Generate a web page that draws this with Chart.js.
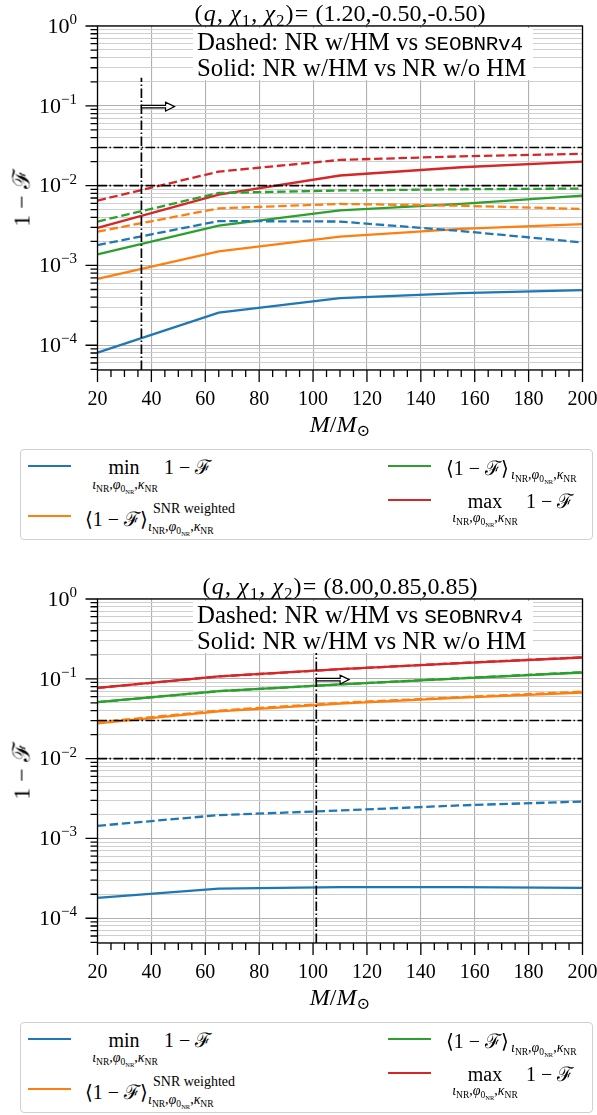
<!DOCTYPE html>
<html>
<head>
<meta charset="utf-8">
<script src="https://cdn.jsdelivr.net/npm/chart.js@4.4.0/dist/chart.umd.min.js"></script>
<style>
  body { margin: 0; width: 597px; height: 1115px; background: #fff; position: relative; overflow: hidden;
         font-family: "Liberation Serif", "DejaVu Serif", serif; color: #000; }
  .panel { position: absolute; left: 0; width: 597px; height: 545px; }
  .panel canvas { position: absolute; left: 0; top: 0; }
  .title { position: absolute; left: 97px; width: 486px; top: 0; text-align: center; font-size: 24px; line-height: 26px; white-space: nowrap; }
  .title .m { letter-spacing: 1.2px; }
  .note { position: absolute; left: 193px; top: 28px; width: 340px; height: 52px; background: #fff;
          font-size: 24.8px; line-height: 23px; padding: 2px 0 0 4px; box-sizing: border-box; white-space: nowrap; }
  .tt { font-family: "Liberation Mono", monospace; font-size: 21px; letter-spacing: -0.3px; }
  .ylab { position: absolute; left: 20px; top: 198px; transform: translate(-50%, -50%) rotate(-90deg); font-size: 24px; white-space: nowrap; }
  .xlab { position: absolute; left: 340px; top: 424px; transform: translate(-50%, -50%); font-size: 24px; white-space: nowrap; }
  sub { font-size: 0.68em; vertical-align: -0.28em; line-height: 0; }
  .legend { position: absolute; left: 20px; top: 449px; width: 573px; height: 91px; box-sizing: border-box;
            border: 1px solid #d0d0d0; border-radius: 4px; background: #fff; }
  .legend .ln { position: absolute; width: 43px; height: 2.4px; }
  .legend .t { position: absolute; white-space: nowrap; line-height: 1; transform: translateY(-50%); font-size: 20px; }
  .legend .c { transform: translate(-50%, -50%); }
  .legend .s { font-size: 14px; }
</style>
</head>
<body>
<script>
const masses = [20, 65, 110, 155, 200];

// (q, chi1, chi2) = (1.20, -0.50, -0.50)
const lowMinHM   = [8.1e-5, 2.57e-4, 3.9e-4, 4.5e-4, 4.9e-4];
const lowSnrHM   = [6.8e-4, 1.5e-3, 2.3e-3, 2.87e-3, 3.3e-3];
const lowMeanHM  = [1.38e-3, 3.15e-3, 4.9e-3, 5.9e-3, 7.5e-3];
const lowMaxHM   = [2.95e-3, 7.7e-3, 1.34e-2, 1.7e-2, 2.0e-2];
const lowMinEOB  = [1.8e-3, 3.6e-3, 3.55e-3, 2.7e-3, 1.94e-3];
const lowSnrEOB  = [2.65e-3, 5.2e-3, 5.9e-3, 5.6e-3, 5.1e-3];
const lowMeanEOB = [3.55e-3, 8.1e-3, 8.7e-3, 9.0e-3, 9.2e-3];
const lowMaxEOB  = [6.5e-3, 1.5e-2, 2.1e-2, 2.33e-2, 2.5e-2];

// (q, chi1, chi2) = (8.00, 0.85, 0.85)
const highMinHM   = [1.8e-4, 2.35e-4, 2.45e-4, 2.45e-4, 2.4e-4];
const highSnrHM   = [2.76e-2, 3.9e-2, 4.9e-2, 5.8e-2, 6.7e-2];
const highMeanHM  = [5.1e-2, 7.0e-2, 8.5e-2, 1.01e-1, 1.2e-1];
const highMaxHM   = [7.7e-2, 1.07e-1, 1.32e-1, 1.57e-1, 1.85e-1];
const highMinEOB  = [1.44e-3, 1.96e-3, 2.24e-3, 2.6e-3, 2.9e-3];
const highSnrEOB  = [2.85e-2, 4.0e-2, 5.0e-2, 5.9e-2, 6.9e-2];
const highMeanEOB = [5.1e-2, 7.0e-2, 8.5e-2, 1.02e-1, 1.21e-1];
const highMaxEOB  = [7.7e-2, 1.07e-1, 1.32e-1, 1.58e-1, 1.86e-1];

const paramLabels = ['(1.20,-0.50,-0.50)', '(8.00,0.85,0.85)'];
const thresholds = [0.03, 0.01];
const cutoffMass = [36.3, 101.2];
const arrowEnd = [48.6, 113.4];
const arrowLevel = 0.1;
const cutoffTop = 0.225;
const xTicks = [20, 40, 60, 80, 100, 120, 140, 160, 180, 200];
const yRange = [4.9e-5, 1];

const colors = { min: '#1f77b4', snr: '#ff7f0e', mean: '#2ca02c', max: '#d62728' };
const serif = '"Liberation Serif", "DejaVu Serif", serif';

const isDecade = v => Math.abs(Math.log10(v) - Math.round(Math.log10(v))) < 1e-9;

// 1..9 x 10^k inside the y range, for grid lines and minor ticks
const logGrid = [];
for (let k = -5; k <= 0; k++) {
  for (let m = 1; m <= 9; m++) {
    const v = m * Math.pow(10, k);
    if (v >= yRange[0] * 0.999 && v <= yRange[1] * 1.001) logGrid.push(v);
  }
}

const frameAndTicks = {
  id: 'frameAndTicks',
  afterDatasetsDraw(chart) {
    const { ctx, chartArea: a, scales: { x, y } } = chart;
    ctx.save();
    ctx.strokeStyle = '#000';
    ctx.lineWidth = 1.3;
    ctx.strokeRect(a.left, a.top, a.right - a.left, a.bottom - a.top);

    ctx.beginPath();
    logGrid.forEach(v => {
      const py = y.getPixelForValue(v);
      ctx.moveTo(a.left - (isDecade(v) ? 12 : 7), py);
      ctx.lineTo(a.left, py);
    });
    for (let m = x.min; m <= x.max + 0.01; m += 5) {
      const px = x.getPixelForValue(m);
      ctx.moveTo(px, a.bottom);
      ctx.lineTo(px, a.bottom + (m % 20 === 0 ? 12 : 7));
    }
    ctx.stroke();

    // decade labels 10^k
    ctx.fillStyle = '#000';
    ctx.textBaseline = 'middle';
    logGrid.filter(isDecade).forEach(v => {
      const py = y.getPixelForValue(v);
      const k = Math.round(Math.log10(v));
      const sup = k < 0 ? '\u2212' + (-k) : String(k);
      ctx.font = '15px ' + serif;
      const w2 = ctx.measureText(sup).width;
      ctx.font = '22px ' + serif;
      const w1 = ctx.measureText('10').width;
      const right = a.left - 20.5;
      ctx.fillText('10', right - w2 - w1, py + 1);
      ctx.font = '15px ' + serif;
      ctx.fillText(sup, right - w2, py - 6);
    });

    // arrow pointing to larger masses
    const arr = chart.options.plugins.cutoffArrow;
    const x0 = x.getPixelForValue(arr.from);
    const x1 = x.getPixelForValue(arr.to);
    const yc = y.getPixelForValue(arr.y) + 0.8;
    const xh = x1 - 9;
    ctx.beginPath();
    ctx.moveTo(x0, yc - 1.3);
    ctx.lineTo(xh, yc - 1.3);
    ctx.lineTo(xh, yc - 4.5);
    ctx.lineTo(x1, yc);
    ctx.lineTo(xh, yc + 4.5);
    ctx.lineTo(xh, yc + 1.3);
    ctx.lineTo(x0, yc + 1.3);
    ctx.closePath();
    ctx.fillStyle = '#fff';
    ctx.fill();
    ctx.lineWidth = 1.2;
    ctx.stroke();
    ctx.restore();
  }
};

function points(vals) {
  return masses.map((m, i) => ({ x: m, y: vals[i] }));
}

function makeChart(canvas, solid, dashed, idx) {
  const datasets = [];
  const dashDot = [9.6, 2.4, 1.6, 2.4];
  thresholds.forEach(t => datasets.push({
    data: [{ x: xTicks[0], y: t }, { x: xTicks[xTicks.length - 1], y: t }],
    borderColor: '#000', borderWidth: 1.6, borderDash: dashDot, pointRadius: 0, order: 0
  }));
  datasets.push({
    data: [{ x: cutoffMass[idx], y: yRange[0] }, { x: cutoffMass[idx], y: cutoffTop }],
    borderColor: '#000', borderWidth: 1.7, borderDash: dashDot, pointRadius: 0, order: 0
  });
  ['min', 'snr', 'mean', 'max'].forEach(key => {
    datasets.push({ data: points(dashed[key]), borderColor: colors[key], borderWidth: 2.3,
                    borderDash: [8.5, 3.7], pointRadius: 0, order: 1 });
    datasets.push({ data: points(solid[key]), borderColor: colors[key], borderWidth: 2.3,
                    pointRadius: 0, order: 2 });
  });

  new Chart(canvas, {
    type: 'line',
    data: { datasets },
    options: {
      responsive: false,
      animation: false,
      layout: { padding: { top: 26, right: 14.5, left: 0, bottom: 0 } },
      plugins: {
        legend: { display: false },
        tooltip: { enabled: false },
        cutoffArrow: { from: cutoffMass[idx], to: arrowEnd[idx], y: arrowLevel }
      },
      scales: {
        x: {
          type: 'linear', min: xTicks[0], max: xTicks[xTicks.length - 1],
          afterBuildTicks(s) { s.ticks = xTicks.map(v => ({ value: v })); },
          ticks: { font: { family: serif, size: 20 }, color: '#000', padding: 18, maxRotation: 0 },
          grid: { color: '#b0b0b0', lineWidth: 1.1, drawTicks: false },
          border: { display: false },
          afterFit(s) { s.height = 75; s.paddingLeft = 0; s.paddingRight = 0; }
        },
        y: {
          type: 'logarithmic', min: yRange[0], max: yRange[1],
          afterBuildTicks(s) { s.ticks = logGrid.map(v => ({ value: v })); },
          ticks: { display: false },
          grid: { color: c => isDecade(c.tick.value) ? '#b0b0b0' : '#cfcfcf', lineWidth: 1.1, drawTicks: false },
          border: { display: false },
          afterFit(s) { s.width = 97.5; s.paddingTop = 0; s.paddingBottom = 0; }
        }
      }
    },
    plugins: [frameAndTicks]
  });
}

const subNR = '<i>ι</i><sub>NR</sub>,<i>φ</i><sub>0<sub>NR</sub></sub>,<i>κ</i><sub>NR</sub>';
const oneMinusF = '1 − ℱ';

function legendHTML() {
  return `
    <div class="ln" style="left:7px;top:15px;background:${colors.min}"></div>
    <span class="t c" style="left:103px;top:17px">min</span>
    <span class="t c s" style="left:104px;top:35px">${subNR}</span>
    <span class="t" style="left:143px;top:17px">${oneMinusF}</span>

    <div class="ln" style="left:7px;top:65px;background:${colors.snr}"></div>
    <span class="t" style="left:64px;top:69px">⟨${oneMinusF}⟩</span>
    <span class="t s" style="left:132px;top:59px">SNR weighted</span>
    <span class="t s" style="left:127px;top:77px">${subNR}</span>

    <div class="ln" style="left:367px;top:15px;background:${colors.mean}"></div>
    <span class="t" style="left:425px;top:18px">⟨${oneMinusF}⟩</span>
    <span class="t s" style="left:490px;top:25px">${subNR}</span>

    <div class="ln" style="left:367px;top:49px;background:${colors.max}"></div>
    <span class="t c" style="left:464px;top:51px">max</span>
    <span class="t c s" style="left:464px;top:68px">${subNR}</span>
    <span class="t" style="left:505px;top:51px">${oneMinusF}</span>`;
}

function buildPanel(top, idx, solid, dashed) {
  const wrap = document.createElement('div');
  wrap.className = 'panel';
  wrap.style.top = top + 'px';
  wrap.innerHTML = `
    <canvas width="597" height="445"></canvas>
    <div class="title"><span class="m">(<i>q</i>,&thinsp;<i>χ</i><sub>1</sub>,&thinsp;<i>χ</i><sub>2</sub>)=</span> ${paramLabels[idx]}</div>
    <div class="note">Dashed: NR w/HM vs <span class="tt">SEOBNRv4</span><br>Solid: NR w/HM vs NR w/o HM</div>
    <div class="ylab">${oneMinusF}</div>
    <div class="xlab"><i>M</i>/<i>M</i><sub>⊙</sub></div>
    <div class="legend">${legendHTML()}</div>`;
  document.body.appendChild(wrap);
  makeChart(wrap.querySelector('canvas'), solid, dashed, idx);
}

buildPanel(0, 0,
  { min: lowMinHM, snr: lowSnrHM, mean: lowMeanHM, max: lowMaxHM },
  { min: lowMinEOB, snr: lowSnrEOB, mean: lowMeanEOB, max: lowMaxEOB });
buildPanel(573, 1,
  { min: highMinHM, snr: highSnrHM, mean: highMeanHM, max: highMaxHM },
  { min: highMinEOB, snr: highSnrEOB, mean: highMeanEOB, max: highMaxEOB });
</script>
</body>
</html>
